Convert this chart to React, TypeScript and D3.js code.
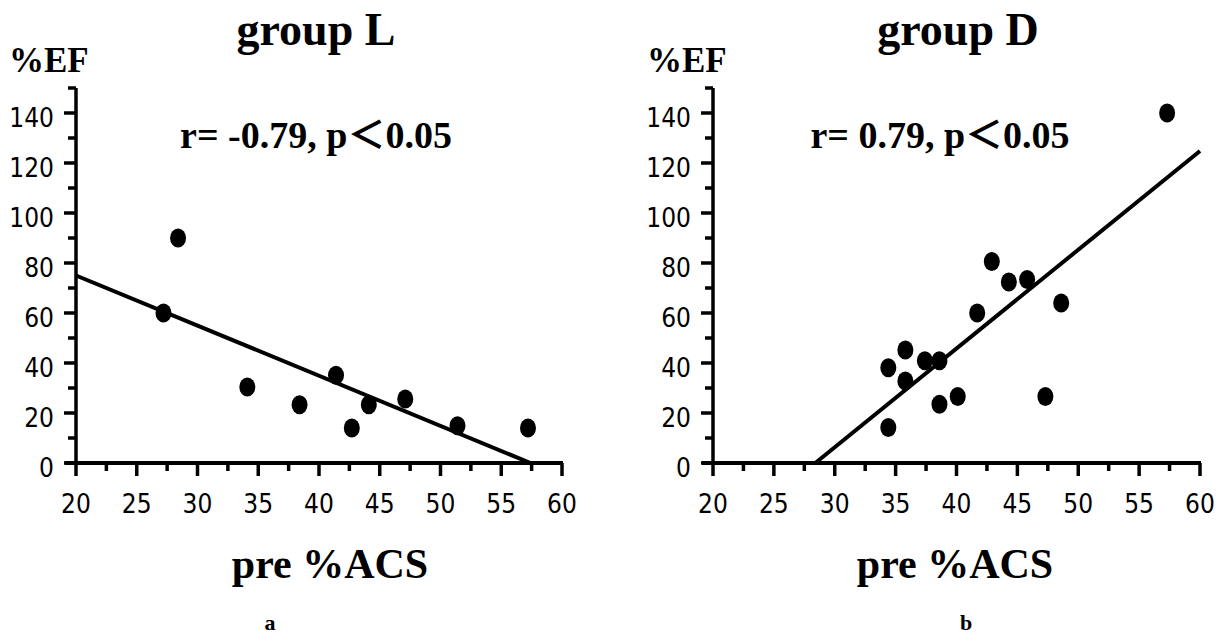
import React from "react";
import * as d3 from "d3";

// ---- data ----
const xTickValues = [20, 25, 30, 35, 40, 45, 50, 55, 60];
const yTickValues = [0, 20, 40, 60, 80, 100, 120, 140];

const groupL_acs = [27.2, 28.4, 34.1, 38.4, 41.4, 42.7, 44.1, 47.1, 51.4, 57.2];
const groupL_ef = [60, 90, 30.4, 23.3, 35.1, 14, 23.3, 25.6, 14.9, 14];
const groupL_fit = [115.1, -2.005]; // intercept, slope

const groupD_acs = [34.4, 34.4, 35.8, 35.8, 37.4, 38.6, 38.6, 40.1, 41.7, 42.9, 44.3, 45.8, 47.3, 48.6, 57.3];
const groupD_ef = [38.1, 14.2, 45.2, 32.8, 40.9, 40.9, 23.5, 26.6, 60, 80.6, 72.4, 73.4, 26.6, 64, 140];
const groupD_fit = [-112.2, 3.95];

const panels = [
  {
    title: "group L", stat: "r= -0.79, p\uFF1C0.05", letter: "a",
    acs: groupL_acs, ef: groupL_ef, fit: groupL_fit,
    x0: 76, x1: 562, titleX: 316, efX: 9, statX: 316, xlabX: 330, letterX: 270,
  },
  {
    title: "group D", stat: "r= 0.79, p\uFF1C0.05", letter: "b",
    acs: groupD_acs, ef: groupD_ef, fit: groupD_fit,
    x0: 713, x1: 1200, titleX: 958, efX: 647, statX: 940, xlabX: 955, letterX: 966,
  },
];

const SERIF = "'Liberation Serif', 'Times New Roman', 'Noto Sans CJK JP', serif";
const NARROW = "'Liberation Sans Narrow', 'DejaVu Sans Condensed', sans-serif";

function Panel({ p }: { p: any }) {
  const x = d3.scaleLinear().domain([20, 60]).range([p.x0, p.x1]);
  const y = d3.scaleLinear().domain([0, 140]).range([463, 113]);
  const minorX = d3.range(22.5, 60, 5);
  const minorY = d3.range(10, 151, 20);
  const [b0, b1] = p.fit;
  let xa = 20, xb = 60;
  const xz = -b0 / b1;
  if (b1 < 0) xb = Math.min(60, xz); else xa = Math.max(20, xz);
  const line = d3.line<number>().x((v) => x(v)).y((v) => y(b0 + b1 * v));
  return (
    <g>
      <text x={p.titleX} y={45} textAnchor="middle" fontFamily={SERIF} fontWeight="bold" fontSize={46}>{p.title}</text>
      <text x={p.efX} y={72} fontFamily={SERIF} fontWeight="bold" fontSize={35}>%EF</text>
      <text x={p.statX} y={148} textAnchor="middle" fontFamily={SERIF} fontWeight="bold" fontSize={38}>{p.stat}</text>
      {/* y axis */}
      <line x1={x(20)} x2={x(20)} y1={y(150)} y2={y(0)} stroke="#000" strokeWidth={3.5} />
      {yTickValues.map((v) => (
        <g key={"y" + v}>
          <line x1={x(20) - 12} x2={x(20)} y1={y(v)} y2={y(v)} stroke="#000" strokeWidth={3.5} />
          <text x={x(20) - 22} y={y(v) + 14} textAnchor="end" fontFamily={NARROW} fontSize={26}>{v}</text>
        </g>
      ))}
      {minorY.map((v) => (
        <line key={"my" + v} x1={x(20) - 8} x2={x(20)} y1={y(v)} y2={y(v)} stroke="#000" strokeWidth={3.5} />
      ))}
      {/* x axis */}
      <line x1={x(20) - 11} x2={x(60) + 1} y1={y(0)} y2={y(0)} stroke="#000" strokeWidth={4} />
      {xTickValues.map((v) => (
        <g key={"x" + v}>
          <line x1={x(v)} x2={x(v)} y1={y(0)} y2={y(0) + 13} stroke="#000" strokeWidth={3.5} />
          <text x={x(v)} y={513} textAnchor="middle" fontFamily={NARROW} fontSize={26}>{v}</text>
        </g>
      ))}
      {minorX.map((v) => (
        <line key={"mx" + v} x1={x(v)} x2={x(v)} y1={y(0)} y2={y(0) + 8} stroke="#000" strokeWidth={3.5} />
      ))}
      {/* fit */}
      <path d={line([xa, xb]) || ""} fill="none" stroke="#000" strokeWidth={4} />
      {/* points */}
      {p.acs.map((a: number, i: number) => (
        <ellipse key={"p" + i} cx={x(a)} cy={y(p.ef[i])} rx={8} ry={9.5} fill="#000" />
      ))}
      <text x={p.xlabX} y={578} textAnchor="middle" fontFamily={SERIF} fontWeight="bold" fontSize={42}>pre %ACS</text>
      <text x={p.letterX} y={630} textAnchor="middle" fontFamily={SERIF} fontWeight="bold" fontSize={22}>{p.letter}</text>
    </g>
  );
}

export default function App() {
  return (
    <svg width={1219} height={637} style={{ position: "absolute", left: 0, top: 0, background: "#fff" }}>
      <rect width={1219} height={637} fill="#fff" />
      {panels.map((p) => (
        <Panel key={p.title} p={p} />
      ))}
    </svg>
  );
}
